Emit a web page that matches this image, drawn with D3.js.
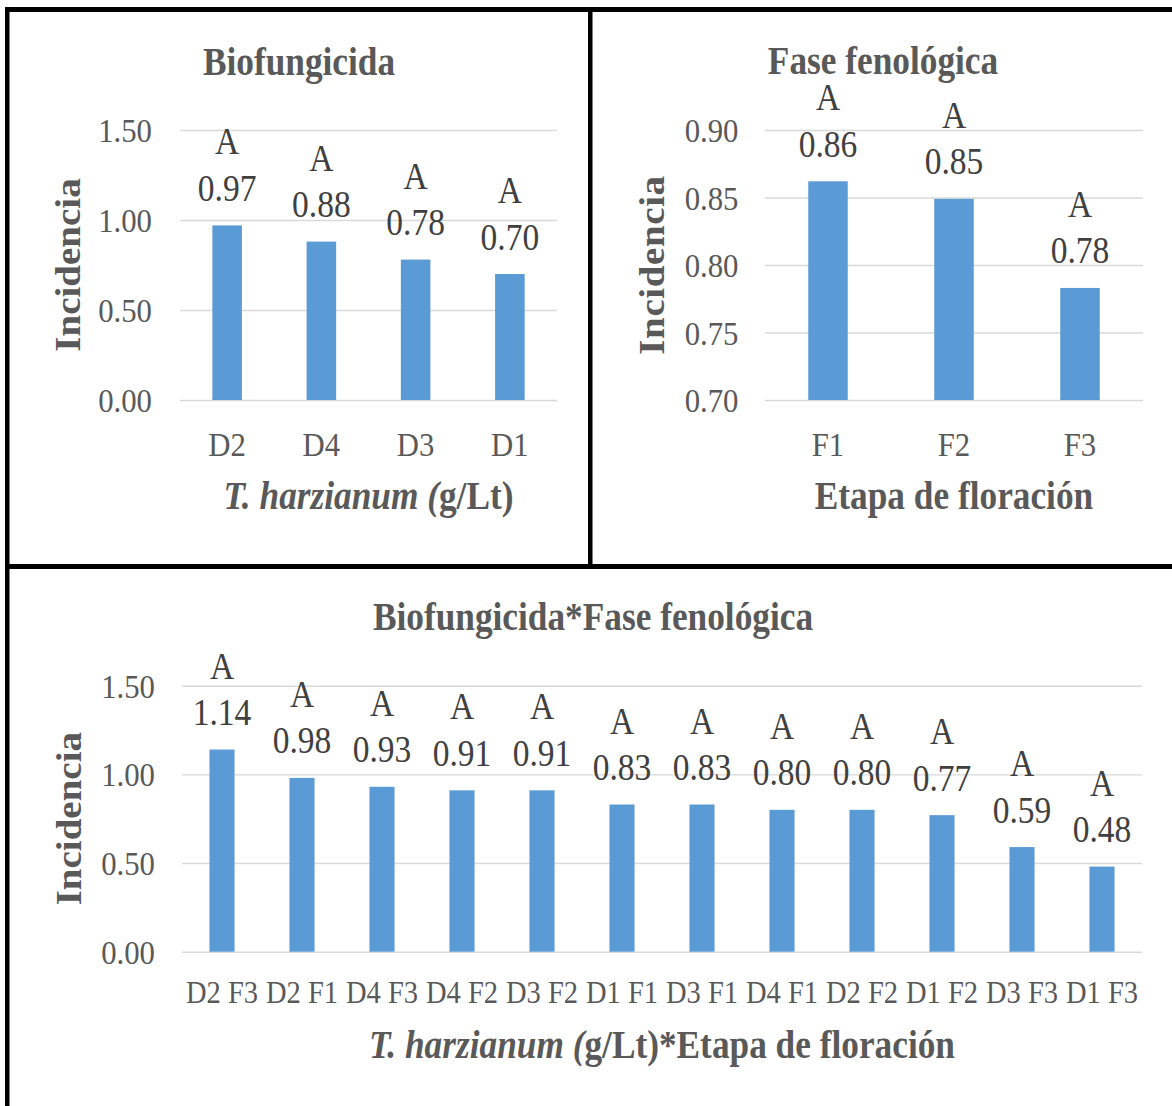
<!DOCTYPE html>
<html>
<head>
<meta charset="utf-8">
<script src="https://cdn.jsdelivr.net/npm/d3@7"></script>
<style>
  html, body { margin: 0; padding: 0; background: #fff; }
  svg { display: block; font-family: "Liberation Serif", "Times New Roman", serif; }
</style>
</head>
<body>
<svg id="fig" width="1172" height="1106"></svg>
<script>
// Incidencia por dosis de biofungicida (T. harzianum)
const dosisCats = ["D2", "D4", "D3", "D1"];
const dosisVals = [0.97, 0.88, 0.78, 0.70];
const dosisLetters = ["A", "A", "A", "A"];
const dosisTicks = [0.00, 0.50, 1.00, 1.50];

// Incidencia por etapa de floración
const faseCats = ["F1", "F2", "F3"];
const faseVals = [0.862, 0.849, 0.783];
const faseLetters = ["A", "A", "A"];
const faseTicks = [0.70, 0.75, 0.80, 0.85, 0.90];

// Interacción dosis * etapa
const interCats = ["D2 F3", "D2 F1", "D4 F3", "D4 F2", "D3 F2", "D1 F1",
                   "D3 F1", "D4 F1", "D2 F2", "D1 F2", "D3 F3", "D1 F3"];
const interVals = [1.14, 0.98, 0.93, 0.91, 0.91, 0.83, 0.83, 0.80, 0.80, 0.77, 0.59, 0.48];
const interLetters = ["A", "A", "A", "A", "A", "A", "A", "A", "A", "A", "A", "A"];
const interTicks = [0.00, 0.50, 1.00, 1.50];

const svg = d3.select("#fig");
const SX = 0.905;            // horizontal squeeze of all lettering
const GREY = "#595959";
const DARK = "#404040";
const BAR = "#5b9bd5";
const GRID = "#d9d9d9";
const fmt = d3.format(".2f");

function txt(parent, x, y, s, o) {
  const t = parent.append("text")
    .attr("transform", `translate(${x},${y}) scale(${SX},1)` + (o.rotate ? " rotate(-90)" : ""))
    .attr("text-anchor", o.anchor || "middle")
    .attr("font-size", o.size)
    .attr("font-weight", o.bold ? "bold" : null)
    .attr("fill", o.fill || GREY);
  if (o.spacing) t.attr("letter-spacing", o.spacing);
  if (s !== null) t.text(s);
  return t;
}

function panel(c) {
  const g = svg.append("g");
  const x = d3.scaleBand().domain(c.cats).range([c.x0, c.x1])
    .paddingInner(0.6865).paddingOuter(0.6865 / 2);
  const y = d3.scaleLinear().domain(c.domain).range([c.yBottom, c.yTop]);

  // gridlines + value axis
  const ya = g.append("g").attr("transform", `translate(${c.x0},0)`)
    .call(d3.axisLeft(y).tickValues(c.ticks).tickSize(-(c.x1 - c.x0)).tickFormat(fmt))
    .attr("font-family", null).attr("font-size", null);
  ya.select(".domain").remove();
  ya.selectAll(".tick line").attr("stroke", GRID).attr("stroke-width", 1.4);
  ya.selectAll(".tick text")
    .attr("x", null).attr("dy", "0.34em")
    .attr("transform", `translate(${-c.tickGap},0) scale(${SX},1)`)
    .attr("text-anchor", "end")
    .attr("font-size", c.ytickSize)
    .attr("fill", GREY);

  // category axis
  const xa = g.append("g").attr("transform", `translate(0,${c.yBottom})`)
    .call(d3.axisBottom(x).tickSize(0))
    .attr("font-family", null).attr("font-size", null);
  xa.select(".domain").remove();
  xa.selectAll(".tick text")
    .attr("y", null).attr("dy", null)
    .attr("transform", `translate(0,${c.xtickOff}) scale(${SX},1)`)
    .attr("font-size", c.xtickSize)
    .attr("fill", GREY);

  // bars
  g.selectAll("rect.bar").data(c.vals).join("rect")
    .attr("class", "bar")
    .attr("x", (d, i) => x(c.cats[i]))
    .attr("width", x.bandwidth())
    .attr("y", d => y(d))
    .attr("height", d => c.yBottom - y(d))
    .attr("fill", BAR);

  // significance letters and values
  c.vals.forEach((v, i) => {
    const cx = x(c.cats[i]) + x.bandwidth() / 2;
    txt(g, cx, y(v) - 71, c.letters[i], { size: 37, fill: DARK });
    txt(g, cx, y(v) - 24.5, fmt(v), { size: 37, fill: DARK });
  });

  // titles
  txt(g, c.titleX, c.titleY, c.title, { size: 39, bold: true });
  txt(g, c.yTitleX, (c.yTop + c.yBottom) / 2, "Incidencia",
      { size: 39, bold: true, rotate: true, spacing: c.ySpacing || null });
  const xt = txt(g, (c.x0 + c.x1) / 2, c.xTitleY, null, { size: 39, bold: true });
  c.xTitle.forEach(p => xt.append("tspan").attr("font-style", p.italic ? "italic" : null).text(p.t));
}

panel({
  cats: dosisCats, vals: dosisVals, letters: dosisLetters, ticks: dosisTicks,
  domain: [0, 1.5], x0: 180, x1: 557, yBottom: 400, yTop: 130,
  tickGap: 28, ytickSize: 34, xtickSize: 34, xtickOff: 56,
  title: "Biofungicida", titleX: 299, titleY: 75,
  yTitleX: 80,
  xTitle: [{ t: "T. harzianum (", italic: true }, { t: "g/Lt)" }], xTitleY: 509
});

panel({
  cats: faseCats, vals: faseVals, letters: faseLetters, ticks: faseTicks,
  domain: [0.70, 0.90], x0: 765, x1: 1143, yBottom: 400, yTop: 130,
  tickGap: 26.5, ytickSize: 34, xtickSize: 34, xtickOff: 56,
  title: "Fase fenológica", titleX: 883, titleY: 74,
  yTitleX: 664, ySpacing: 0.6,
  xTitle: [{ t: "Etapa de floración" }], xTitleY: 509
});

panel({
  cats: interCats, vals: interVals, letters: interLetters, ticks: interTicks,
  domain: [0, 1.5], x0: 182, x1: 1142, yBottom: 951.7, yTop: 685.7,
  tickGap: 27, ytickSize: 34, xtickSize: 31.5, xtickOff: 51.6,
  title: "Biofungicida*Fase fenológica", titleX: 593, titleY: 630,
  yTitleX: 80.5,
  xTitle: [{ t: "T. harzianum (", italic: true }, { t: "g/Lt)*Etapa de floración" }], xTitleY: 1058
});

// panel frames
const frame = svg.append("g").attr("fill", "#000");
frame.append("rect").attr("x", 5).attr("y", 7).attr("width", 1167).attr("height", 5);
frame.append("rect").attr("x", 5).attr("y", 7).attr("width", 4.5).attr("height", 1099);
frame.append("rect").attr("x", 588).attr("y", 7).attr("width", 4.5).attr("height", 560);
frame.append("rect").attr("x", 5).attr("y", 564).attr("width", 1167).attr("height", 5);
</script>
</body>
</html>
